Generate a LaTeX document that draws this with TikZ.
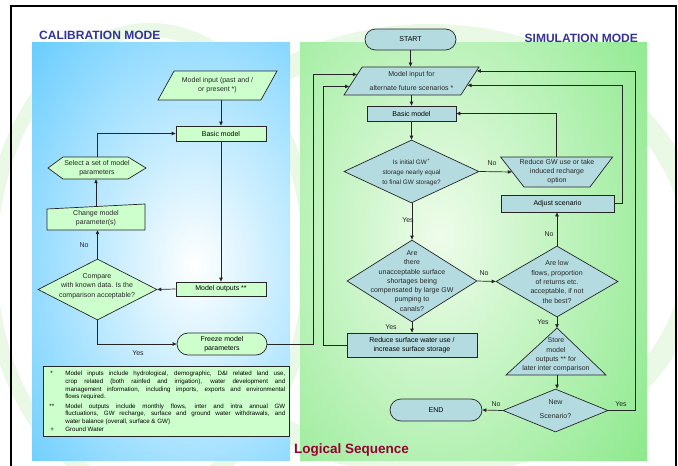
\documentclass[tikz,border=0pt]{standalone}
\usepackage{fontspec}
\setmainfont{Liberation Sans}
\usetikzlibrary{shapes.geometric,shapes.misc,arrows.meta,calc}
\definecolor{panelblue}{HTML}{66CCFF}
\definecolor{panelgreen}{HTML}{8CE98C}
\definecolor{lightgreen}{HTML}{EEFCEA}
\definecolor{calfill}{HTML}{CCFFCC}
\definecolor{simfill}{HTML}{B4DCE0}
\definecolor{titleblue}{HTML}{333399}
\definecolor{seqred}{HTML}{990033}
\definecolor{watermark}{HTML}{EAF8E6}
\newcommand{\nodefont}{\fontsize{7}{9.3}\selectfont}
\newcommand{\smallnodefont}{\fontsize{6.4}{10}\selectfont}
\newcommand{\notefont}{\fontsize{6.2}{7.7}\selectfont}
\tikzset{
  box/.style={draw=black!85, line width=0.7pt, align=center, font=\nodefont, inner sep=1pt},
  calbox/.style={box, fill=calfill},
  simbox/.style={box, fill=simfill},
  calshape/.style={draw=black!85, line width=0.7pt, fill=calfill},
  simshape/.style={draw=black!85, line width=0.7pt, fill=simfill},
  txt/.style={align=center, font=\nodefont, inner sep=0pt, text=black!85},
  lbl/.style={font=\nodefont, inner sep=0pt, text=black!85},
  flow/.style={->, line width=0.7pt, draw=black!85},
  dia/.style={diamond, inner sep=0pt},
  para/.style={trapezium, trapezium stretches body, inner sep=0pt},
}
\begin{document}
\begin{tikzpicture}[x=1pt,y=-1pt,>={Triangle[length=4pt,width=3.4pt]}]
	\useasboundingbox (0,0) rectangle (678,466);
	% faint background marks
	\draw[watermark, line width=22pt] (430,250) ellipse (265pt and 215pt);
	\draw[watermark, line width=14pt] (150,260) ellipse (160pt and 230pt);
	% panels
	\fill[panelblue] (32,42) rectangle (290,460);
	\begin{scope}
		\clip (32,42) rectangle (290,460);
		\shade[inner color=white, outer color=panelblue] (195,265) ellipse (230pt and 330pt);
	\end{scope}
	\fill[panelgreen] (300,42) rectangle (647,460);
	\begin{scope}
		\clip (300,42) rectangle (647,460);
		\shade[inner color=lightgreen, outer color=panelgreen] (440,235) ellipse (260pt and 380pt);
	\end{scope}
	\draw[line width=1.5pt] (11,470) -- (11,6) -- (676,6) -- (676,470);
	\node[anchor=west, font=\fontsize{12}{14}\bfseries\selectfont, text=titleblue, inner sep=0pt] (caltitle) at (39,35) {CALIBRATION MODE};
	\node[anchor=east, font=\fontsize{12}{14}\bfseries\selectfont, text=titleblue, inner sep=0pt] (simtitle) at (638,38) {SIMULATION MODE};
	\node[anchor=west, font=\fontsize{13.5}{15}\bfseries\selectfont, text=seqred, inner sep=0pt] (seqtitle) at (294,450) {Logical Sequence};

	% calibration mode
	\node[para, calbox, trapezium left angle=61, trapezium right angle=119, minimum width=119] (calin) at (217.5,85.5) {\rule{0pt}{27pt}};
	\node[txt] (calint) at (calin) {Model input (past and /\\ or present *)};
	\node[calbox, minimum width=90, minimum height=15] (calbasic) at (221,133.5) {Basic model};
	\draw[calshape] (48,168) -- (63,157) -- (128,157) -- (146,168) -- (128,179) -- (63,179) -- cycle;
	\node[txt, minimum width=98, minimum height=22] (select) at (97,168) {Select a set of model\\parameters};
	\draw[calshape] (47,230) -- (145,230) -- (145,204) -- (47,209) -- cycle;
	\node[txt, minimum width=98, minimum height=23] (change) at (96,218.5) {Change model\\parameter(s)};
	\node[dia, calbox, minimum width=119, minimum height=61] (compare) at (97.5,289.5) {};
	\node[txt] (comparet) at (97,286) {Compare\\with known data. Is the\\comparison acceptable?};
	\node[calbox, minimum width=90, minimum height=14] (calout) at (221,289) {Model outputs **};
	\node[calbox, rounded rectangle, minimum width=92, minimum height=22] (freeze) at (222,344) {Freeze model\\parameters};
	\node[lbl] (calno) at (84,245) {No};
	\node[lbl] (calyes) at (138,353) {Yes};
	\draw[flow] (calbasic.north |- calin.south) -- (calbasic.north);
	\draw[flow] (calbasic.south) -- (calout.north);
	\draw[flow] (calout.west) -- (compare.east);
	\draw[flow] (compare.north) -- (compare.north |- change.south);
	\draw[flow] (change.north) -- (change.north |- select.south);
	\draw[flow] (select.north) |- (calbasic.west);
	\draw[flow] (compare.south) |- (freeze.west);
	\node[calbox, anchor=north west, align=justify, text width=238pt, inner xsep=4pt, inner ysep=2pt, minimum height=70, font=\notefont] (notes) at (43,366) {%
		\hangindent=18pt\hangafter=1\noindent\makebox[18pt][l]{\hspace{3pt}*}Model inputs include hydrological, demographic, D\&I related land use,\linebreak crop related (both rainfed and irrigation), water development and\linebreak management information, including imports, exports and environmental\linebreak flows required.\par\vskip1.5pt
		\hangindent=18pt\hangafter=1\noindent\makebox[18pt][l]{\hspace{2pt}**}Model outputs include monthly flows, inter and intra annual GW\linebreak fluctuations, GW recharge, surface and ground water withdrawals, and\linebreak water balance (overall, surface \& GW)\par
		\hangindent=18pt\hangafter=1\noindent\makebox[18pt][l]{\hspace{3pt}+}Ground Water\par};

	% simulation mode
	\node[simbox, rounded rectangle, minimum width=93, minimum height=21] (start) at (410.5,39.5) {START};
	\node[para, simbox, trapezium left angle=57, trapezium right angle=123, minimum width=135] (simin) at (411.5,81) {\rule{0pt}{26pt}};
	\node[txt] (simint) at (simin) {Model input for\\[5pt]alternate future scenarios *};
	\node[simbox, minimum width=89, minimum height=15] (simbasic) at (411.5,113.5) {Basic model};
	\node[dia, simbox, minimum width=135, minimum height=63] (gwcheck) at (411.5,171.5) {};
	\node[txt, font=\smallnodefont] (gwcheckt) at (411.5,172.5) {Is initial GW\textsuperscript{+}\\storage nearly equal\\to final GW storage?};
	\node[para, simbox, trapezium left angle=128, trapezium right angle=127, minimum width=112] (redgw) at (557,172) {\rule{0pt}{28pt}};
	\node[txt, font=\fontsize{7}{9}\selectfont] (redgwt) at (557,172) {Reduce GW use or take\\induced recharge\\option};
	\node[simbox, minimum width=113, minimum height=17] (adjust) at (557.5,203.5) {Adjust scenario};
	\node[dia, simbox, minimum width=130, minimum height=82] (shortage) at (412,281) {};
	\node[txt] (shortaget) at (412,281) {Are\\there\\unacceptable surface\\shortages being\\compensated by large GW\\pumping to\\canals?};
	\node[dia, simbox, minimum width=122, minimum height=71] (lowflow) at (557,281.5) {};
	\node[txt] (lowflowt) at (557,282) {Are low\\flows, proportion\\of returns etc.\\acceptable, if not\\the best?};
	\node[simbox, minimum width=130, minimum height=24] (redsw) at (412,345) {Reduce surface water use /\\increase surface storage};
	\draw[simshape] (557,328) coordinate (storetop) -- (606,375) -- (506,375) -- cycle;
	\coordinate (storebot) at (557,375);
	\node[txt] (store) at (556,355) {Store\\model\\outputs ** for\\later inter comparison};
	\node[dia, simbox, minimum width=105, minimum height=43] (newsc) at (555.5,410.5) {};
	\node[txt] (newsct) at (555.5,409) {New\\[4pt]Scenario?};
	\node[simbox, rounded rectangle, minimum width=94, minimum height=22] (finish) at (436,410) {END};
	\node[lbl] (gwno) at (492,163) {No};
	\node[lbl] (gwyes) at (408,220) {Yes};
	\node[lbl] (shno) at (484,273) {No};
	\node[lbl] (shyes) at (391,327) {Yes};
	\node[lbl] (lfno) at (549,234) {No};
	\node[lbl] (lfyes) at (543,322) {Yes};
	\node[lbl] (nsno) at (496,404) {No};
	\node[lbl] (nsyes) at (621,404) {Yes};
	\coordinate (inL1) at ($(simin.top left corner)!0.27!(simin.bottom left corner)$);
	\coordinate (inL2) at ($(simin.top left corner)!0.69!(simin.bottom left corner)$);
	\coordinate (inR1) at ($(simin.top right corner)!0.15!(simin.bottom right corner)$);
	\coordinate (inR2) at ($(simin.top right corner)!0.65!(simin.bottom right corner)$);
	\draw[flow] (start.south) -- (start.south |- simin.north);
	\draw[flow] (simbasic.north |- simin.south) -- (simbasic.north);
	\draw[flow] (simbasic.south) -- (simbasic.south |- gwcheck.north);
	\draw[flow] (gwcheck.east) -- (redgw.left side);
	\draw[flow] (redgw.top side) |- (simbasic.east);
	\draw[flow] (shortage.north |- gwcheck.south) -- (shortage.north);
	\draw[flow] (shortage.east) -- (lowflow.west);
	\draw[flow] (lowflow.north) -- (lowflow.north |- adjust.south);
	\draw[flow] (shortage.south) -- (redsw.north);
	\draw[flow] (lowflow.south) -- (storetop);
	\draw[flow] (storebot) -- (storebot |- newsc.north);
	\draw[flow] (newsc.west) -- (finish.east);
	\draw[flow] (freeze.east) -| ($(inL1)+(-44,0)$) -- (inL1);
	\draw[flow] (redsw.west) -| ($(inL2)+(-26,0)$) -- (inL2);
	\draw[flow] (newsc.east) -| ($(inR1)+(158,0)$) -- (inR1);
	\draw[flow] (adjust.east) -| ($(inR2)+(155,0)$) -- (inR2);
\end{tikzpicture}
\end{document}
